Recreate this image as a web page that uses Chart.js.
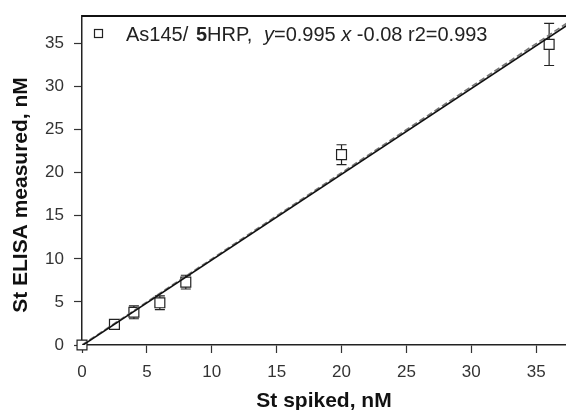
<html lang="en">
<head>
    <meta charset="UTF-8">
    <title>St ELISA vs spiked</title>
    <script src="https://cdn.jsdelivr.net/npm/chart.js"></script>
    <style>
        body {
            margin: 0;
            background: #ffffff;
        }
        #chart {
            display: block;
        }
    </style>
</head>
<body>
    <canvas id="chart" width="566" height="410"></canvas>
    <script>
        // measured points (mean +/- error)
        const spikedX = [0, 2.5, 4, 6, 8, 20, 36];
        const measuredY = [0, 2.4, 3.8, 4.9, 7.3, 22.1, 34.9];
        const errY = [0, 0.2, 0.75, 0.8, 0.8, 1.15, 2.45];

        // regression line and identity line end points
        const fitX = [0, 40];
        const fitY = [-0.08, 39.72];
        const idX = [0, 40];
        const idY = [0, 40];

        const xTicks = [0, 5, 10, 15, 20, 25, 30, 35];
        const yTicks = [0, 5, 10, 15, 20, 25, 30, 35];

        const FONT = "'Liberation Sans', Arial, sans-serif";

        const errorBars = {
            id: "errorBars",
            beforeDatasetsDraw(chart) {
                const ctx = chart.ctx;
                const xs = chart.scales.x, ys = chart.scales.y;
                ctx.save();
                ctx.strokeStyle = "#222";
                ctx.lineWidth = 1.2;
                spikedX.forEach((x, i) => {
                    if (!errY[i]) return;
                    const px = xs.getPixelForValue(x);
                    const top = ys.getPixelForValue(measuredY[i] + errY[i]);
                    const bot = ys.getPixelForValue(measuredY[i] - errY[i]);
                    ctx.beginPath();
                    ctx.moveTo(px, top); ctx.lineTo(px, bot);
                    ctx.moveTo(px - 5, top); ctx.lineTo(px + 5, top);
                    ctx.moveTo(px - 5, bot); ctx.lineTo(px + 5, bot);
                    ctx.stroke();
                });
                ctx.restore();
            }
        };

        const frame = {
            id: "frame",
            afterDraw(chart) {
                const ctx = chart.ctx;
                const a = chart.chartArea;
                ctx.save();
                // top border
                ctx.strokeStyle = "#111";
                ctx.lineWidth = 2;
                ctx.beginPath();
                ctx.moveTo(a.left, a.top);
                ctx.lineTo(a.right, a.top);
                ctx.stroke();

                // y title
                ctx.fillStyle = "#111";
                ctx.font = "bold 21px " + FONT;
                ctx.textAlign = "center";
                ctx.textBaseline = "middle";
                ctx.translate(21.5, 195);
                ctx.rotate(-Math.PI / 2);
                ctx.fillText("St ELISA measured, nM", 0, 0);
                ctx.restore();

                // legend with mixed styles
                ctx.save();
                ctx.strokeStyle = "#222";
                ctx.lineWidth = 1.2;
                ctx.strokeRect(94.5, 29.5, 8, 8);
                const groups = [
                    [126, [["", "As145/"]]],
                    [196, [["bold ", "5"], ["", "HRP,"]]],
                    [264, [["italic ", "y"], ["", "=0.995 "], ["italic ", "x"], ["", " -0.08 r2=0.993"]]]
                ];
                ctx.fillStyle = "#222";
                ctx.textBaseline = "alphabetic";
                groups.forEach(([gx, parts]) => {
                    let tx = gx;
                    parts.forEach(([style, s]) => {
                        ctx.font = style + "20px " + FONT;
                        ctx.fillText(s, tx, 41);
                        tx += ctx.measureText(s).width;
                    });
                });
                ctx.restore();
            }
        };

        new Chart(document.getElementById("chart"), {
            type: "scatter",
            data: {
                datasets: [
                    {
                        type: "line",
                        data: fitX.map((x, i) => ({ x: x, y: fitY[i] })),
                        borderColor: "#111",
                        borderWidth: 1.6,
                        pointRadius: 0,
                        order: 0
                    },
                    {
                        type: "line",
                        data: idX.map((x, i) => ({ x: x, y: idY[i] })),
                        borderColor: "#777",
                        borderWidth: 1.6,
                        borderDash: [6, 3],
                        pointRadius: 0,
                        order: 1
                    },
                    {
                        data: spikedX.map((x, i) => ({ x: x, y: measuredY[i] })),
                        pointStyle: "rect",
                        pointRadius: 7,
                        pointBorderWidth: 1.2,
                        pointBorderColor: "#222",
                        pointBackgroundColor: "#fff",
                        clip: false,
                        order: 2
                    }
                ]
            },
            options: {
                responsive: false,
                animation: false,
                layout: { autoPadding: false, padding: { top: 16, right: 0, left: 0, bottom: 0 } },
                plugins: {
                    legend: { display: false },
                    tooltip: { enabled: false }
                },
                scales: {
                    x: {
                        type: "linear",
                        min: 0,
                        max: 37.3,
                        afterFit: s => { s.height = 65; s.paddingLeft = 0; s.paddingRight = 0; },
                        afterBuildTicks: s => { s.ticks = xTicks.map(v => ({ value: v })); },
                        ticks: {
                            font: { family: FONT, size: 17 },
                            color: "#333",
                            padding: 9,
                            maxRotation: 0
                        },
                        grid: { drawOnChartArea: false, tickLength: 8, tickColor: "#333", tickWidth: 1.2 },
                        border: { color: "#222", width: 1.5 },
                        title: {
                            display: true,
                            text: "St spiked, nM",
                            font: { family: FONT, size: 21, weight: "bold" },
                            color: "#111",
                            padding: { top: 0, bottom: -4 }
                        }
                    },
                    y: {
                        type: "linear",
                        min: 0,
                        max: 38.2,
                        afterFit: s => { s.width = 82; s.paddingTop = 0; s.paddingBottom = 0; },
                        afterBuildTicks: s => { s.ticks = yTicks.map(v => ({ value: v })); },
                        ticks: {
                            font: { family: FONT, size: 17 },
                            color: "#333",
                            padding: 10
                        },
                        grid: { drawOnChartArea: false, tickLength: 8, tickColor: "#333", tickWidth: 1.2 },
                        border: { color: "#222", width: 1.5 }
                    }
                }
            },
            plugins: [errorBars, frame]
        });
    </script>
</body>
</html>
